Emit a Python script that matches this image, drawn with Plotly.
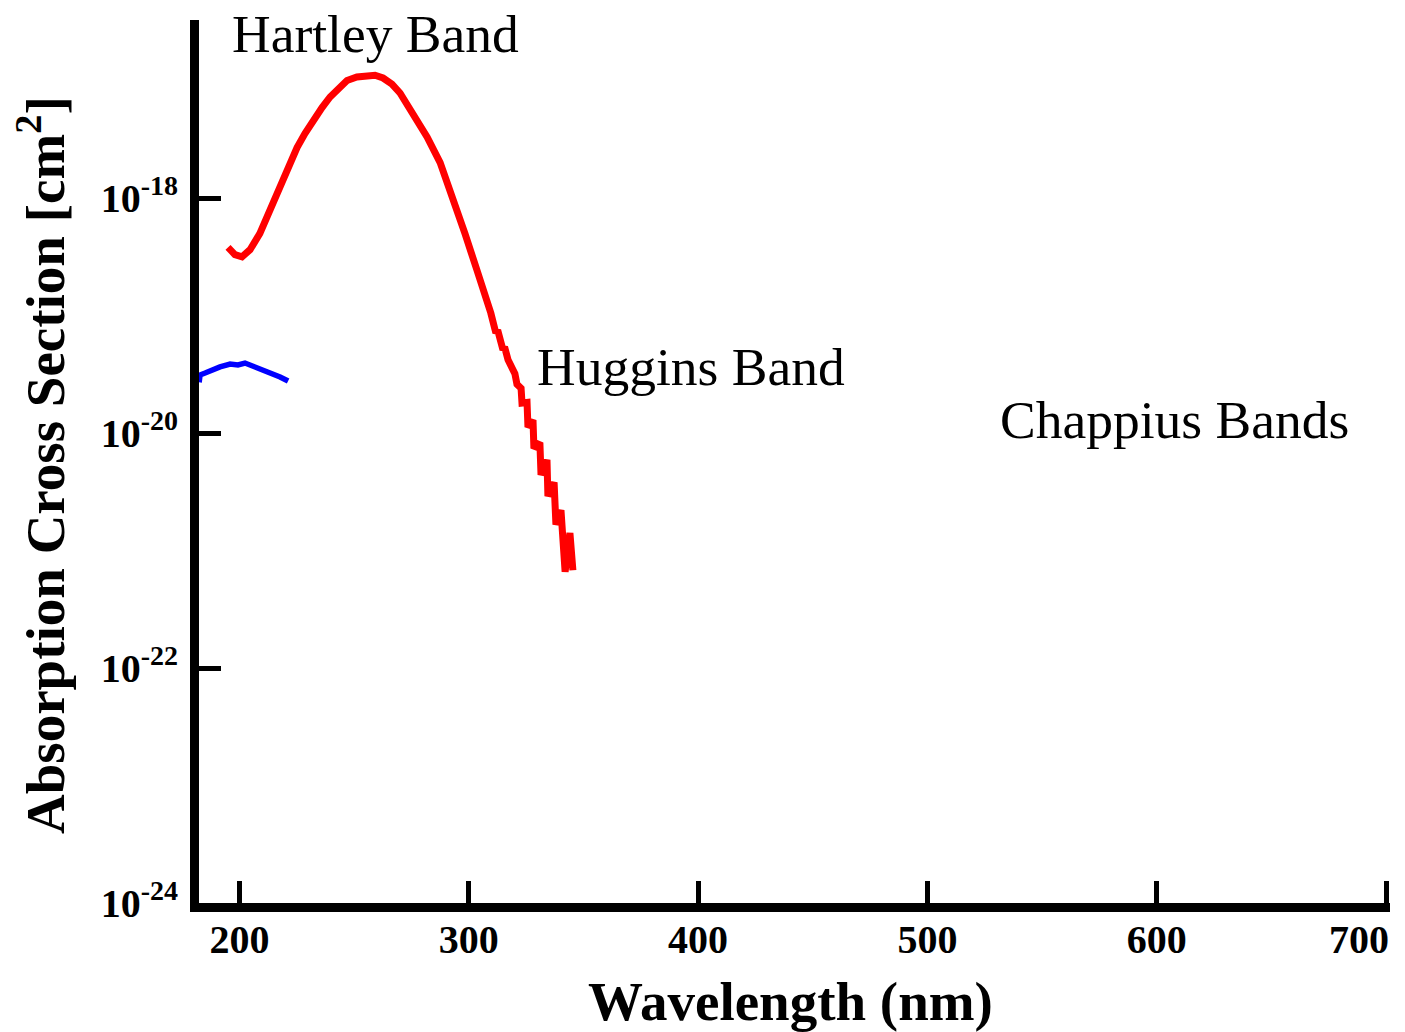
import plotly.graph_objects as go

# Hartley/Huggins band (red)
red_wl = [195.0, 198.0, 201.1, 204.6, 208.9, 213.3, 217.7, 221.2, 225.1, 228.6, 232.1,
          236.0, 239.5, 243.4, 246.9, 251.2, 255.6, 259.1, 262.6, 266.5, 270.0, 275.7,
          281.8, 287.5, 293.1, 298.3, 303.5, 307.9, 309.6, 311.8, 312.6, 314.9, 315.6,
          317.1, 320.1, 321.0, 322.8, 323.2, 325.4, 325.8, 328.0, 328.4, 331.0, 331.5,
          334.1, 334.5, 337.2, 338.0, 340.2, 342.0, 344.1, 345.4]
red_sigma = [3.8e-19, 3.3e-19, 3.16e-19, 3.63e-19, 5.0e-19, 7.9e-19, 1.23e-18, 1.82e-18,
             2.69e-18, 3.55e-18, 4.57e-18, 5.89e-18, 7.24e-18, 8.71e-18, 1.0e-17, 1.07e-17,
             1.11e-17, 1.11e-17, 1.05e-17, 9.33e-18, 7.83e-18, 5.13e-18, 3.31e-18, 2.0e-18,
             1.02e-18, 5.0e-19, 2.45e-19, 1.35e-19, 1.05e-19, 7.1e-20, 7.5e-20, 5.1e-20,
             5.4e-20, 4.2e-20, 3.2e-20, 2.6e-20, 2.4e-20, 1.8e-20, 1.82e-20, 1.12e-20,
             1.29e-20, 7.4e-21, 8.3e-21, 4.4e-21, 5.9e-21, 2.9e-21, 3.8e-21, 1.66e-21,
             2.2e-21, 6.6e-22, 1.41e-21, 6.8e-22]

# short-wavelength curve (blue)
blue_wl = [182.4, 182.8, 185.0, 188.0, 191.5, 195.9, 199.3, 202.4, 205.9, 212.0, 217.7, 221.2]
blue_sigma = [2.70e-20, 3.12e-20, 3.24e-20, 3.44e-20, 3.65e-20, 3.86e-20, 3.79e-20,
              3.94e-20, 3.72e-20, 3.37e-20, 3.00e-20, 2.77e-20]

x_ticks = [200, 300, 400, 500, 600, 700]
x_ticktext = ["200", "300", "400", "500", "600", "700"]
y_ticks = [1e-24, 1e-22, 1e-20, 1e-18]
y_ticktext = ["10<sup>-24</sup>", "10<sup>-22</sup>", "10<sup>-20</sup>", "10<sup>-18</sup>"]

labels = ["Hartley Band", "Huggins Band", "Chappius Bands"]
label_x = [259.3, 396.7, 607.8]
label_logy = [-16.60, -19.44, -19.89]

x_title = "Wavelength (nm)"
y_title = "Absorption Cross Section [cm<sup>2</sup>]"

FONT = "Liberation Serif"
OFF = 8  # default body margin of the html page
W, H = 1405 - OFF, 1032 - OFF
L, R, T, B = 199 - OFF, 15, 20 - OFF, 129
PW, PH = W - L - R, H - T - B


def px_to_paper_x(px):
    # px given in window pixels
    return (px - OFF - L) / PW


def py_to_paper_y(py):
    return (H - B - (py - OFF)) / PH


fig = go.Figure()
fig.add_trace(go.Scatter(x=red_wl, y=red_sigma, mode="lines",
                         line=dict(color="#ff0000", width=7), showlegend=False))
fig.add_trace(go.Scatter(x=blue_wl, y=blue_sigma, mode="lines",
                         line=dict(color="#0000ff", width=5.5), showlegend=False))

for t, x, y in zip(labels, label_x, label_logy):
    fig.add_annotation(x=x, y=y, xref="x", yref="y", text=t, showarrow=False,
                       xanchor="center", yanchor="middle",
                       font=dict(family=FONT, size=53.5, color="black"))

# last x tick label is pulled inside the page (as in the original)
fig.add_annotation(x=px_to_paper_x(1391), y=py_to_paper_y(939), xref="paper", yref="paper",
                   text=f"<b>{x_ticktext[-1]}</b>", showarrow=False,
                   xanchor="right", yanchor="middle",
                   font=dict(family=FONT, size=40, color="black"))

# axis titles
fig.add_annotation(x=px_to_paper_x(790), y=py_to_paper_y(1001), xref="paper", yref="paper",
                   text=f"<b>{x_title}</b>", showarrow=False,
                   xanchor="center", yanchor="middle",
                   font=dict(family=FONT, size=55, color="black"))
fig.add_annotation(x=px_to_paper_x(41), y=py_to_paper_y(465), xref="paper", yref="paper",
                   text=f"<b>{y_title}</b>", showarrow=False, textangle=-90,
                   xanchor="center", yanchor="middle",
                   font=dict(family=FONT, size=55, color="black"))

fig.update_layout(
    width=W, height=H,
    margin=dict(l=L, r=R, t=T, b=B, autoexpand=False),
    paper_bgcolor="white", plot_bgcolor="white",
    font=dict(family=FONT, color="black"),
    xaxis=dict(range=[182.34, 701.74], tickvals=x_ticks,
               ticktext=[f"<b>{v}</b>" for v in x_ticktext[:-1]] + [""],
               showline=True, linecolor="black", linewidth=9,
               ticks="inside", ticklen=22, tickwidth=5, tickcolor="black",
               showgrid=False, zeroline=False, automargin=False,
               ticklabelstandoff=-7,
               tickfont=dict(family=FONT, size=40, color="black")),
    yaxis=dict(type="log", range=[-24, -16.485], tickvals=y_ticks,
               ticktext=[f"<b>{t}</b>" for t in y_ticktext],
               showline=True, linecolor="black", linewidth=9,
               ticks="inside", ticklen=22, tickwidth=5, tickcolor="black",
               showgrid=False, zeroline=False, automargin=False,
               ticklabelstandoff=4,
               tickfont=dict(family=FONT, size=40, color="black")),
)

fig.write_html("out.html")
